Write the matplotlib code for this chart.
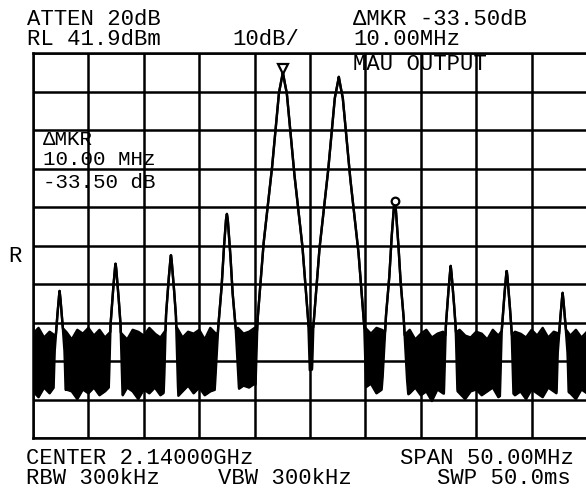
import numpy as np
import matplotlib
matplotlib.use("Agg")
import matplotlib.pyplot as plt

# spectrum analyzer screen: 2.14 GHz centre, 50 MHz span, RL 41.9 dBm, 10 dB/div
ref_level = 41.9
db_per_div = 10
span = 50.0

# peaks (MHz offset from centre, dBm, shape)
peak_freq = [-22.6, -17.55, -12.55, -7.5, -2.45, 2.6, 7.65, 12.7, 17.75, 22.8]
peak_level = [-19.9, -12.6, -10.4, 0.1, 36.9, 35.7, 3.4, -13.4, -14.5, -20.4]
peak_kind = ['high', 'high', 'high', 'imd3', 'main', 'main', 'imd3', 'high', 'high', 'high']

# skirt shapes: offset (MHz) -> dB below the peak
profiles = {
    'main': ([0, 0.12, 0.36, 1.0, 1.76, 2.3, 2.5, 3.0, 4.0], [0, 2, 5.5, 25.5, 45, 65, 85, 95, 115]),
    'imd3': ([0, 0.08, 0.3, 0.5, 0.8, 1.1, 1.5, 3.0], [0, 1.5, 10, 20, 30, 46, 60, 100]),
    'high': ([0, 0.06, 0.25, 0.45, 0.6, 0.85, 2.0], [0, 1.5, 8, 16, 32, 50, 90]),
}

# noise band edges every 0.5 MHz from -25 to +25 MHz (dBm)
noise_hi = [-31.0, -29.5, -32.0, -30.5, -31.5, -29.0, -30.5, -32.5, -30.0, -31.0,
            -29.5, -31.5, -30.0, -32.0, -30.5, -29.0, -31.0, -32.5, -30.0, -30.5,
            -31.5, -29.5, -31.0, -32.0, -30.0, -31.0, -29.5, -32.0, -30.5, -31.0,
            -30.0, -32.5, -29.5, -31.0, -30.5, -31.5, -30.0, -29.5, -31.0, -30.5,
            -29.5, -31.0, -30.0, -30.5, -29.5, -30.0, -30.5, -29.5, -30.0, -29.0,
            -29.0, -29.5, -30.0, -29.5, -30.5, -30.0, -29.0, -30.5, -29.5, -30.0,
            -29.5, -31.0, -29.5, -30.0, -31.0, -32.0, -30.5, -31.5, -30.0, -32.5,
            -31.0, -30.0, -32.0, -31.0, -30.5, -32.5, -31.0, -30.0, -31.5, -32.0,
            -30.5, -31.0, -32.5, -30.0, -31.5, -29.5, -32.0, -30.5, -31.0, -32.0,
            -30.0, -31.5, -29.5, -32.0, -30.5, -31.0, -29.5, -31.5, -30.0, -32.0, -30.5]
noise_lo = [-46.0, -47.5, -45.0, -46.5, -44.5, -47.0, -45.5, -46.0, -48.0, -45.5,
            -46.5, -45.0, -47.0, -46.0, -44.5, -46.5, -47.5, -45.0, -46.0, -48.0,
            -45.5, -46.5, -45.0, -47.0, -46.0, -45.5, -47.5, -46.0, -44.5, -46.5,
            -45.0, -47.0, -46.0, -45.5, -47.5, -45.0, -46.0, -45.5, -44.5, -45.0,
            -44.0, -45.5, -44.5, -46.0, -43.5, -45.0, -44.0, -42.0, -41.0, -40.0,
            -40.5, -40.0, -41.0, -42.5, -44.0, -45.0, -44.0, -46.0, -45.5, -44.5,
            -45.0, -44.0, -46.5, -45.5, -47.0, -46.0, -45.0, -47.5, -46.5, -45.0,
            -47.0, -46.0, -48.5, -45.5, -46.5, -47.0, -45.0, -46.5, -48.0, -46.0,
            -45.5, -47.0, -46.0, -45.0, -47.5, -46.5, -45.5, -47.0, -46.0, -48.0,
            -45.5, -46.5, -47.5, -45.0, -46.0, -47.0, -45.5, -46.5, -48.0, -45.5, -46.5]

W, H = 586, 489
fig = plt.figure(figsize=(W / 100, H / 100), dpi=100)
ax = fig.add_axes([33 / W, 1 - 439 / H, 554 / W, 385 / H])

noise_f = np.linspace(-span / 2, span / 2, len(noise_hi))
f = np.linspace(-span / 2, span / 2, 2501)
hi = np.interp(f, noise_f, noise_hi)
lo = np.interp(f, noise_f, noise_lo)

sig = np.full_like(f, -200.0)
for f0, lvl, kind in zip(peak_freq, peak_level, peak_kind):
    dfs, dbs = profiles[kind]
    sig = np.maximum(sig, lvl - np.interp(np.abs(f - f0), dfs, dbs))

upper = np.maximum(hi, sig)
lower = np.maximum(lo, sig)

ax.fill_between(f, lower, upper, color='black', lw=0)
ax.plot(f, upper, color='black', lw=1.7)
ax.plot(f, lower, color='black', lw=1.7)

# markers: reference marker on first tone, delta marker on upper IMD3
ax.plot(peak_freq[4], peak_level[4] + 0.9, marker='v', ms=7, mfc='white', mec='black', mew=1.6)
ax.plot(peak_freq[6], peak_level[6], marker='o', ms=5.5, mfc='white', mec='black', mew=1.6)

bottom = ref_level - 10 * db_per_div
ax.set_xlim(-span / 2, span / 2)
ax.set_ylim(bottom, ref_level)
ax.set_xticks(np.linspace(-span / 2, span / 2, 11))
ax.set_yticks(np.linspace(bottom, ref_level, 11))
ax.tick_params(length=0, labelbottom=False, labelleft=False)
ax.grid(True, color='black', lw=1.8)
for s in ax.spines.values():
    s.set_linewidth(1.8)

fam = ['Liberation Mono', 'DejaVu Sans Mono']


def label(x, y, s, size=16):
    fig.text(x / W, 1 - y / H, s, family=fam, fontsize=size, va='baseline', ha='left')


label(27, 25, 'ATTEN 20dB')
label(27, 45, 'RL 41.9dBm')
label(232, 45, '10dB/')
label(353, 25, '\u0394MKR -33.50dB')
label(353, 45, '10.00MHz')
label(353, 70, 'MAU OUTPUT')
label(43, 145, '\u0394MKR', 15)
label(43, 165, '10.00 MHz', 15)
label(43, 188, '-33.50 dB', 15)
label(8, 262, 'R')
label(26, 464, 'CENTER 2.14000GHz')
label(400, 464, 'SPAN 50.00MHz')
label(26, 484, 'RBW 300kHz')
label(218, 484, 'VBW 300kHz')
label(437, 484, 'SWP 50.0ms')

fig.savefig('out.png', dpi=100, facecolor='white')
